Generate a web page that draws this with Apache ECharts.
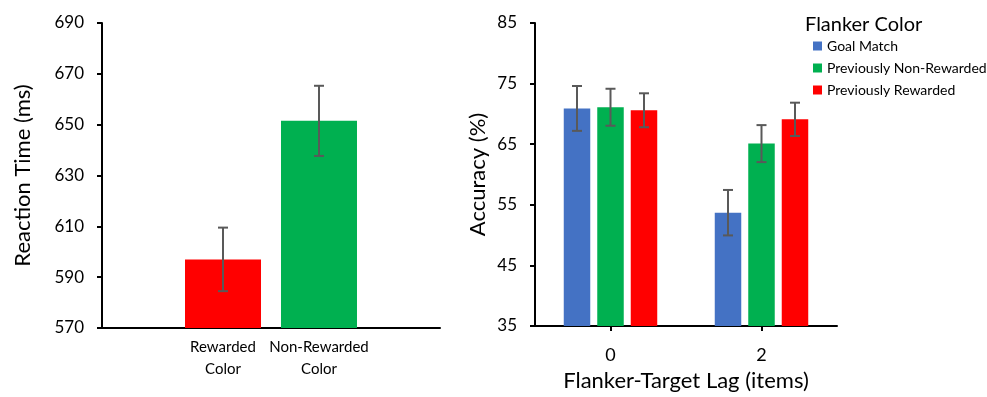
<!DOCTYPE html>
<html>
<head>
<meta charset="utf-8">
<script src="https://cdn.jsdelivr.net/npm/echarts@6/dist/echarts.min.js"></script>
<style>
  html, body { margin: 0; padding: 0; background: #fff; }
  #main { width: 987px; height: 397px; }
</style>
</head>
<body>
<div id="main"></div>
<script>
// left panel: reaction time
const rtCategories = ['Rewarded\nColor', 'Non-Rewarded\nColor'];
const rtMeans = [597, 651.5];
const rtSE = [12.5, 13.8];
const rtTicks = ['570', '590', '610', '630', '650', '670', '690'];

// right panel: accuracy by lag
const lagCategories = ['0', '2'];
const accNames = ['Goal Match', 'Previously Non-Rewarded', 'Previously Rewarded'];
const accGoal = [70.9, 53.7];
const accNonRew = [71.1, 65.1];
const accRew = [70.6, 69.1];
const seGoal = [3.7, 3.75];
const seNonRew = [3.05, 3.05];
const seRew = [2.8, 2.75];
const accTicks = ['35', '45', '55', '65', '75', '85'];

const colors = ['#4472C4', '#00B050', '#FF0000'];
const rtColors = ['#FF0000', '#00B050'];
const FONT = 'Lato, "Noto Sans", sans-serif';
const ERR = '#595959';

const accMeans = [accGoal, accNonRew, accRew];
const accSE = [seGoal, seNonRew, seRew];

const chart = echarts.init(document.getElementById('main'));

// error bars; bars are laid out with a fixed width and gap so offsets are known
function errorBars(barW, gapPx, n) {
  return function (params, api) {
    const c = api.value(0), s = api.value(3);
    const lo = api.coord([c, api.value(1)]);
    const hi = api.coord([c, api.value(2)]);
    const x = lo[0] + (s - (n - 1) / 2) * (barW + gapPx);
    const cap = 5;
    const style = { stroke: ERR, lineWidth: 2 };
    return {
      type: 'group',
      children: [
        { type: 'line', shape: { x1: x, y1: lo[1], x2: x, y2: hi[1] }, style },
        { type: 'line', shape: { x1: x - cap, y1: lo[1], x2: x + cap, y2: lo[1] }, style },
        { type: 'line', shape: { x1: x - cap, y1: hi[1], x2: x + cap, y2: hi[1] }, style }
      ]
    };
  };
}

const rtErrData = rtMeans.map((m, i) => [0, m - rtSE[i], m + rtSE[i], i]);
const accErrData = [];
accMeans.forEach((arr, s) => {
  arr.forEach((m, c) => accErrData.push([c, m - accSE[s][c], m + accSE[s][c], s]));
});

const axisBlack = { lineStyle: { color: '#000', width: 2 } };
const tickOut = { show: true, length: 5, lineStyle: { color: '#000', width: 2 } };

const option = {
  animation: false,
  textStyle: { fontFamily: FONT },
  title: {
    text: 'Flanker Color',
    left: 800,
    top: 10,
    textStyle: { fontFamily: FONT, fontSize: 20, fontWeight: 'normal', color: '#000' }
  },
  legend: {
    data: accNames,
    orient: 'vertical',
    left: 808,
    top: 34,
    icon: 'rect',
    itemWidth: 9,
    itemHeight: 9,
    itemGap: 8,
    textStyle: { fontFamily: FONT, fontSize: 14, color: '#000', lineHeight: 14 }
  },
  grid: [
    { left: 102, top: 23, width: 338, height: 305 },
    { left: 535, top: 23, width: 302, height: 310 }
  ],
  xAxis: [
    {
      gridIndex: 0, type: 'category', data: [''],
      axisLine: axisBlack, axisTick: { show: false }, axisLabel: { show: false }
    },
    {
      gridIndex: 1, type: 'category', data: lagCategories,
      axisLine: axisBlack,
      axisTick: { show: true, alignWithLabel: true, length: 5, lineStyle: { color: '#000', width: 2 } },
      axisLabel: { color: '#000', fontSize: 18, margin: 20, fontFamily: FONT },
      name: 'Flanker-Target Lag (items)',
      nameLocation: 'middle',
      nameGap: 44,
      nameTextStyle: { color: '#000', fontSize: 22, fontFamily: FONT }
    }
  ],
  yAxis: [
    {
      gridIndex: 0, type: 'value', show: false,
      min: Number(rtTicks[0]), max: Number(rtTicks[rtTicks.length - 1]),
      splitLine: { show: false }
    },
    {
      gridIndex: 0, type: 'category', position: 'left', data: rtTicks, boundaryGap: false,
      axisLine: axisBlack, axisTick: tickOut,
      axisLabel: { color: '#000', fontSize: 17, margin: 18, fontFamily: FONT },
      splitLine: { show: false },
      name: 'Reaction Time (ms)',
      nameLocation: 'middle', nameRotate: 90, nameGap: 68,
      nameTextStyle: { color: '#000', fontSize: 22, fontFamily: FONT }
    },
    {
      gridIndex: 1, type: 'value', show: false,
      min: Number(accTicks[0]), max: Number(accTicks[accTicks.length - 1]),
      splitLine: { show: false }
    },
    {
      gridIndex: 1, type: 'category', position: 'left', data: accTicks, boundaryGap: false,
      axisLine: axisBlack, axisTick: tickOut,
      axisLabel: { color: '#000', fontSize: 17, margin: 18, fontFamily: FONT },
      splitLine: { show: false },
      name: 'Accuracy (%)',
      nameLocation: 'middle', nameRotate: 90, nameGap: 46,
      nameTextStyle: { color: '#000', fontSize: 22, fontFamily: FONT }
    }
  ],
  series: [
    ...rtCategories.map((name, i) => ({
      type: 'bar',
      name: name,
      xAxisIndex: 0, yAxisIndex: 0,
      barWidth: 76, barGap: '26.3%',
      itemStyle: { color: rtColors[i] },
      label: {
        show: true, position: 'bottom', distance: 8,
        formatter: '{a}', color: '#000', fontSize: 15, lineHeight: 22, fontFamily: FONT
      },
      data: [rtMeans[i]]
    })),
    {
      type: 'custom', xAxisIndex: 0, yAxisIndex: 0, z: 5,
      renderItem: errorBars(76, 20, rtMeans.length),
      encode: { x: 0, y: [1, 2] },
      data: rtErrData
    },
    ...accNames.map((name, s) => ({
      type: 'bar',
      name: name,
      xAxisIndex: 1, yAxisIndex: 2,
      barWidth: 26.5, barGap: '26.4%',
      itemStyle: { color: colors[s] },
      data: accMeans[s]
    })),
    {
      type: 'custom', xAxisIndex: 1, yAxisIndex: 2, z: 5,
      renderItem: errorBars(26.5, 7, accNames.length),
      encode: { x: 0, y: [1, 2] },
      data: accErrData
    }
  ]
};

chart.setOption(option);
</script>
</body>
</html>
